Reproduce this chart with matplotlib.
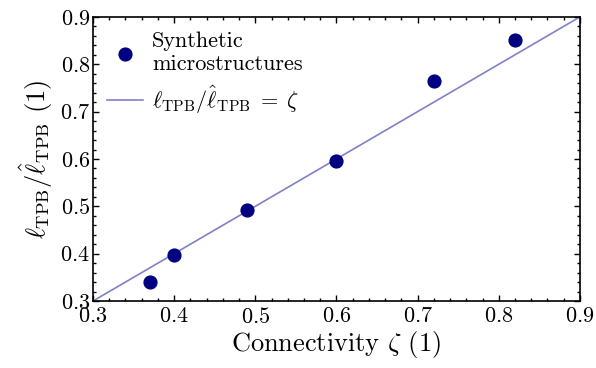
import matplotlib
matplotlib.use("Agg")
import matplotlib.pyplot as plt
from matplotlib.ticker import MultipleLocator

plt.rcParams.update({
    "font.family": "serif",
    "font.serif": ["cmr10", "DejaVu Serif"],
    "mathtext.fontset": "cm",
    "axes.unicode_minus": False,
    "axes.formatter.use_mathtext": True,
    "font.size": 16,
})

# Connectivity vs normalised TPB length for the synthetic microstructures
connectivity = [0.37, 0.40, 0.49, 0.60, 0.72, 0.82]
tpb_ratio = [0.341, 0.397, 0.492, 0.596, 0.765, 0.851]
ref_line = [0.3, 0.9]

fig = plt.figure(figsize=(5.96, 3.68), dpi=100)
ax = fig.add_axes([0.156, 0.182, 0.817, 0.772])

ax.scatter(connectivity, tpb_ratio, s=85, color="#000080", zorder=3,
           label="Synthetic\nmicrostructures")
ax.plot(ref_line, ref_line, color="#8080c8", lw=1.2,
        label=r"$\ell_\mathrm{TPB}/\hat{\ell}_\mathrm{TPB}\;=\;\zeta$")

ax.set_xlim(0.3, 0.9)
ax.set_ylim(0.3, 0.9)
ax.xaxis.set_major_locator(MultipleLocator(0.1))
ax.yaxis.set_major_locator(MultipleLocator(0.1))
ax.xaxis.set_minor_locator(MultipleLocator(0.02))
ax.yaxis.set_minor_locator(MultipleLocator(0.02))
ax.tick_params(which="both", direction="in", top=True, right=True, width=1.0)
ax.tick_params(which="major", length=4.5, labelsize=16)
ax.tick_params(axis="x", which="major", pad=4)
ax.tick_params(axis="y", which="major", pad=2)
ax.tick_params(which="minor", length=2.5)
for sp in ax.spines.values():
    sp.set_linewidth(1.2)

ax.set_xlabel(r"Connectivity $\zeta$ (1)", fontsize=19, labelpad=2)
ax.set_ylabel(r"$\ell_\mathrm{TPB}/\hat{\ell}_\mathrm{TPB}$ (1)", fontsize=19, labelpad=4)

ax.legend(loc="upper left", frameon=False, fontsize=16, handlelength=1.6,
          handletextpad=0.4, labelspacing=0.45, borderaxespad=0.35,
          borderpad=0.3)

fig.savefig("out.png", dpi=100)
